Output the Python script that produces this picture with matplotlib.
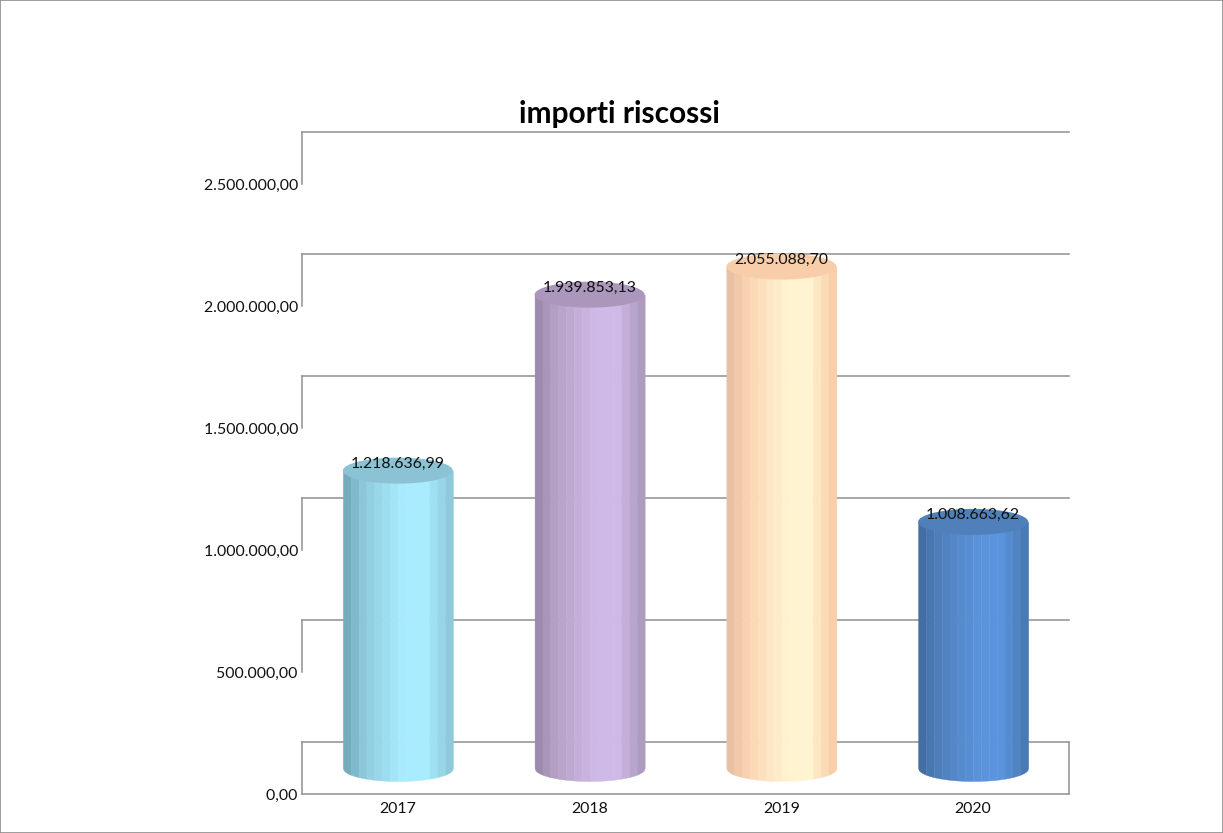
import numpy as np
import matplotlib
matplotlib.use("Agg")
import matplotlib.pyplot as plt
from matplotlib.colors import to_rgb
from matplotlib.patches import Ellipse, Rectangle

plt.rcParams['font.family'] = ['Lato', 'DejaVu Sans']

years = ['2017', '2018', '2019', '2020']
values = [1218636.99, 1939853.13, 2055088.70, 1008663.62]
y_ticks = [0, 500000, 1000000, 1500000, 2000000, 2500000]
y_tick_labels = ['0,00', '500.000,00', '1.000.000,00', '1.500.000,00', '2.000.000,00', '2.500.000,00']
value_labels = ['1.218.636,99', '1.939.853,13', '2.055.088,70', '1.008.663,62']

dark = ['#6fa5b6', '#9885a6', '#e3bd9d', '#3f6a9e']
mid = ['#8fcbdd', '#b5a2c6', '#fbd5b2', '#4f80bd']
light = ['#a9ecff', '#cfb9e6', '#fff3d0', '#5b94dc']
right_side = ['#8ec9dc', '#ad9bc0', '#f8cfa8', '#4a7ab5']
top = ['#8cc3d4', '#ab97bc', '#f7cdaa', '#4f80b9']

grid_color = '#909090'
text_color = '#111111'
y_max = 2713000      # top of the back wall
depth = 213000       # how far the back wall sits above the front axis
base = 106500        # centre of the cylinder foot above zero
cap_h = 106500       # full height of the ellipse
bar_w = 0.574
label_size = 11.4

fig = plt.figure(figsize=(12.23, 8.33), dpi=100)
fig.add_artist(Rectangle((0, 0), 1, 1, transform=fig.transFigure, fill=False, ec='#8c8c8c', lw=1.2))

ax = fig.add_axes([302 / 1223, 1 - 794 / 833, 767 / 1223, 662 / 833])
ax.set_xlim(-0.5, 3.5)
ax.set_ylim(0, y_max)
ax.axis('off')

# back wall lines and the broken left edge
for t, lab in zip(y_ticks, y_tick_labels):
    ax.plot([-0.5, 3.5], [t + depth, t + depth], color=grid_color, lw=1.1, zorder=1, clip_on=False)
    ax.plot([-0.5, -0.5], [t, t + depth], color=grid_color, lw=1.1, zorder=1, clip_on=False)
    ax.text(-0.5, t - 9000, lab + ' ', ha='right', va='center', fontsize=label_size, color=text_color)
ax.plot([-0.5, 3.5], [0, 0], color=grid_color, lw=1.1, zorder=1, clip_on=False)
ax.plot([3.5, 3.5], [0, depth], color=grid_color, lw=1.1, zorder=1, clip_on=False)

# banded cylinders
edges = np.linspace(-1, 1, 15)
for i, v in enumerate(values):
    c_dark = np.array(to_rgb(dark[i]))
    c_mid = np.array(to_rgb(mid[i]))
    c_light = np.array(to_rgb(light[i]))
    c_right = np.array(to_rgb(right_side[i]))
    top_y = base + v
    for a, b in zip(edges[:-1], edges[1:]):
        m = (a + b) / 2
        if m < -0.6:
            col = c_dark + (c_mid - c_dark) * (m + 1) / 0.4
        elif m < 0.1:
            col = c_mid + (c_light - c_mid) * (m + 0.6) / 0.7
        elif m < 0.5:
            col = c_light
        else:
            col = c_light + (c_right - c_light) * (m - 0.5) / 0.43
        xs = np.linspace(a, b, 12)
        foot = base - cap_h / 2 * np.sqrt(np.clip(1 - xs ** 2, 0, 1))
        ax.fill_between(i + xs * bar_w / 2, foot, top_y, color=col, lw=0.3, zorder=2)
    ax.add_patch(Ellipse((i, top_y), bar_w, cap_h, fc=top[i], ec='none', zorder=3))
    ax.text(i, top_y + 28000, value_labels[i], ha='center', va='center', fontsize=label_size, color=text_color, zorder=4)
    ax.text(i, -62000, years[i], ha='center', va='center', fontsize=label_size, color=text_color)

fig.text(619 / 1223, 1 - 114 / 833, 'importi riscossi', ha='center', va='center', fontsize=21.5, fontweight='bold')

fig.savefig('out.png', dpi=100)
